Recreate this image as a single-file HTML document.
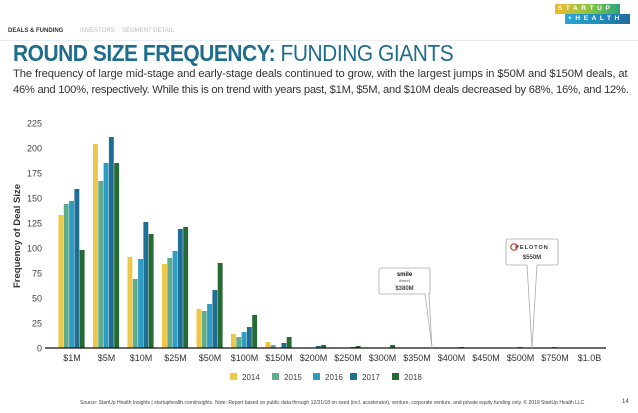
<!DOCTYPE html>
<html><head><meta charset="utf-8"><style>
body{margin:0;width:638px;height:413px;background:#fff;font-family:"Liberation Sans",sans-serif;overflow:hidden;position:relative}
.abs{position:absolute}
</style></head><body>
<div class="abs" style="left:8px;top:28px;font-size:6px;font-weight:bold;color:#333">DEALS &amp; FUNDING</div>
<div class="abs" style="left:80px;top:28px;font-size:6px;color:#bbb">INVESTORS</div>
<div class="abs" style="left:122px;top:28px;font-size:6px;color:#bbb">SEGMENT DETAIL</div>
<div class="abs" style="left:0;top:40px;width:638px;height:1px;background:#e6eef2"></div>
<div class="abs" style="left:555px;top:4px;width:76px;height:22px">
 <div style="height:10px;width:62px;background:linear-gradient(90deg,#f2b82e,#8cc63f,#2aa57a);color:#fff;font-size:6.5px;font-weight:bold;letter-spacing:3.6px;line-height:10px;padding-left:3px">STARTUP</div>
 <div style="height:10px;width:62px;margin-left:10px;background:linear-gradient(90deg,#27a8d8,#1f6f9f);color:#fff;font-size:6.5px;font-weight:bold;letter-spacing:3.6px;line-height:10px;padding-left:3px">+HEALTH</div>
</div>
<div class="abs" style="left:13px;top:40px;font-size:23px;color:#1e6d8d;white-space:nowrap;letter-spacing:-0.5px;transform:scaleX(0.91);transform-origin:0 0"><b>ROUND SIZE FREQUENCY:</b> FUNDING GIANTS</div>
<div class="abs" style="left:13px;top:66px;font-size:11.2px;line-height:16px;color:#333;letter-spacing:-0.1px;white-space:nowrap">The frequency of large mid-stage and early-stage deals continued to grow, with the largest jumps in $50M and $150M deals, at<br><span style="letter-spacing:-0.26px">46% and 100%, respectively. While this is on trend with years past, $1M, $5M, and $10M deals decreased by 68%, 16%, and 12%.</span></div>
<svg class="abs" style="left:0;top:0" width="638" height="413" id="chart"></svg>
<div class="abs" style="left:80px;top:400px;font-size:5px;color:#444;white-space:nowrap">Source: StartUp Health Insights | startuphealth.com/insights &nbsp;Note: Report based on public data through 12/31/18 on seed (incl. accelerator), venture, corporate venture, and private equity funding only. © 2019 StartUp Health LLC</div>
<div class="abs" style="left:622px;top:399px;font-size:6px;color:#444">14</div>
<script>
const categories=["$1M","$5M","$10M","$25M","$50M","$100M","$150M","$200M","$250M","$300M","$350M","$400M","$450M","$500M","$750M","$1.0B"];
const years=["2014","2015","2016","2017","2018"];
const s2014=[133,204,91,84,39,14,6,0,0,0,0,0,0,0,0,0];
const s2015=[144,167,69,90,37,11,3,0,0,0,0,0,0,0,0,0];
const s2016=[147,185,89,97,44,16,0,0,0,0,0,0,0,1,1,0];
const s2017=[159,211,126,119,58,21,5,2,1,0,0,0,0,0,0,0];
const s2018=[98,185,114,121,85,33,11,3,2,3,0,1,0,0,0,0];
const yTicks=[0,25,50,75,100,125,150,175,200,225];
const colors=["#ecc748","#5fab8c","#2f9cc4","#1f6e93","#266b33"];
const NS="http://www.w3.org/2000/svg";
const svg=document.getElementById('chart');
const y0=348,yTop=123,yMax=225;
const y=v=>y0-(v/yMax)*(y0-yTop);
const x=i=>72+i*34.5;
function mk(t,a){const e=document.createElementNS(NS,t);for(const k in a)e.setAttribute(k,a[k]);svg.appendChild(e);return e;}
yTicks.forEach(t=>{const e=mk('text',{x:42,y:y(t)+3.5,'text-anchor':'end','font-size':9,fill:'#444','font-family':'Liberation Sans'});e.textContent=t;

});
const yl=mk('text',{x:0,y:0,transform:'translate(20,236) rotate(-90)','text-anchor':'middle','font-size':9.5,'font-weight':'bold',fill:'#333','font-family':'Liberation Sans'});yl.textContent='Frequency of Deal Size';


const series=[s2014,s2015,s2016,s2017,s2018];
const bw=5.3;
categories.forEach((c,i)=>{
 series.forEach((s,j)=>{const v=s[i];if(v<=0)return;
  const r=mk('rect',{x:x(i)-13.5+j*bw,y:y(v),width:bw-0.4,height:y0-y(v),fill:colors[j]});
  
  });
 const t=mk('text',{x:x(i),y:361,'text-anchor':'middle','font-size':9,fill:'#333','font-family':'Liberation Sans'});t.textContent=c;
 
 
});
const ax=mk('line',{x1:45,x2:606,y1:y0,y2:y0,stroke:'#111','stroke-width':1.2});


function callout(bx,by,bw2,bh,t1,t2,tip,name,lines){
 const p=mk('path',{d:`M${bx+2} ${by} H${bx+bw2-2} Q${bx+bw2} ${by} ${bx+bw2} ${by+2} V${by+bh-2} Q${bx+bw2} ${by+bh} ${bx+bw2-2} ${by+bh} H${t2} L${tip} 348 L${t1} ${by+bh} H${bx+2} Q${bx} ${by+bh} ${bx} ${by+bh-2} V${by+2} Q${bx} ${by} ${bx+2} ${by} Z`,fill:'#fff',stroke:'#aaa','stroke-width':0.8});
 
 
 lines.forEach(l=>{const t=mk('text',{x:bx+bw2/2,y:l[0],'text-anchor':'middle','font-size':l[1],'font-weight':'bold',fill:l[2],'font-family':'Liberation Sans','letter-spacing':l[4]||0});t.textContent=l[3];
  
  });
}
callout(379,268,51,26,425,429,432,'smile-callout',[[276,6,'#111','smile'],[282,4,'#777','direct'],[290,6,'#444','$380M']]);
callout(506,239,52,26,527,537,532,'peloton-callout',[[249,5.5,'#333','  PELOTON',1],[259,6,'#444','$550M']]);
const pc=mk('circle',{cx:514,cy:247,r:3.2,fill:'none',stroke:'#c0392b','stroke-width':1.2});


const lx=[230,272,313,350,392];
years.forEach((yr,j)=>{const r=mk('rect',{x:lx[j],y:373,width:7,height:7,fill:colors[j]});
 
 
 const t=mk('text',{x:lx[j]+12,y:380,'font-size':8,fill:'#444','font-family':'Liberation Sans'});t.textContent=yr;
 
 });
</script>
</body></html>
